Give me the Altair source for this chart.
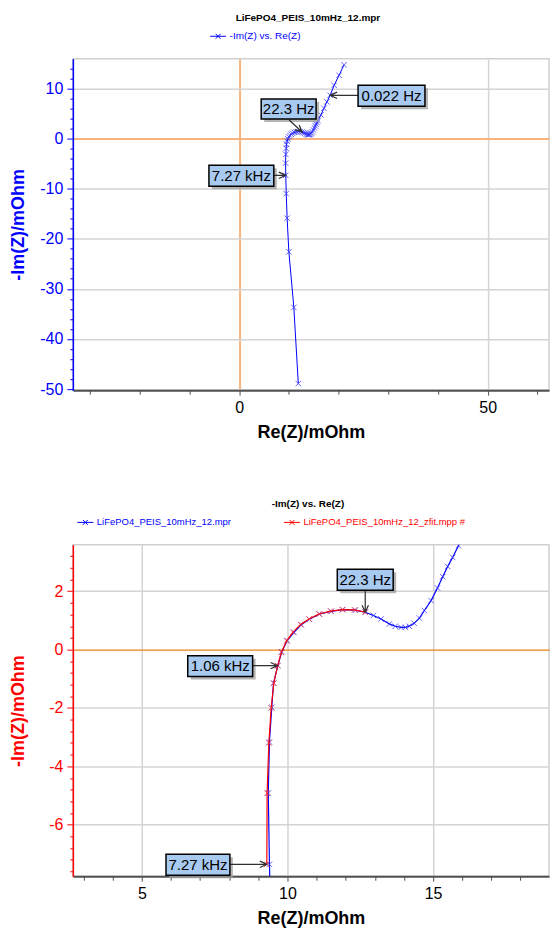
import math
import altair as alt
import pandas as pd

# ---------------- data (mOhm) ----------------
# measured spectrum, from high to low frequency
RE_MEAS = [11.90, 11.00, 10.00, 9.65, 9.47, 9.38, 9.34, 9.38, 9.46, 9.52,
           9.67, 9.80, 9.99, 10.22, 10.47, 10.75, 11.10, 11.50, 11.90, 12.33,
           12.67, 12.95, 13.21, 13.50, 13.70, 13.90, 14.05, 14.18, 14.35, 14.53,
           14.70, 14.93, 15.15, 15.33, 15.50, 15.67, 15.87, 16.45, 17.05, 17.65,
           18.30, 19.10, 20.10, 21.10]
NEG_IM_MEAS = [-48.9, -33.7, -22.6, -15.9, -11.0, -7.36, -4.92, -3.17, -1.98, -1.15,
               -0.55, -0.08, 0.31, 0.59, 0.85, 1.04, 1.22, 1.31, 1.37, 1.35,
               1.28, 1.17, 1.05, 0.88, 0.80, 0.76, 0.76, 0.80, 0.90, 1.08,
               1.34, 1.68, 2.11, 2.50, 2.85, 3.16, 3.56, 4.70, 6.00, 7.30,
               8.60, 10.60, 12.60, 14.70]
# fitted spectrum
RE_FIT = [9.29, 9.30, 9.36, 9.44, 9.53, 9.66, 9.79, 9.97, 10.19, 10.45,
          10.74, 11.08, 11.48, 11.88, 12.30, 12.67]
NEG_IM_FIT = [-7.36, -4.92, -3.20, -2.00, -1.15, -0.55, -0.10, 0.30, 0.60, 0.86,
              1.05, 1.22, 1.32, 1.37, 1.36, 1.28]

TITLE_TOP = "LiFePO4_PEIS_10mHz_12.mpr"
TITLE_BOT = "-Im(Z) vs. Re(Z)"
SERIES_TOP = "-Im(Z) vs. Re(Z)"
SERIES_MEAS = "LiFePO4_PEIS_10mHz_12.mpr"
SERIES_FIT = "LiFePO4_PEIS_10mHz_12_zfit.mpp #"
X_TITLE = "Re(Z)/mOhm"
Y_TITLE = "-Im(Z)/mOhm"

TOP_X_TICKS = [-30, -20, -10, 0, 10, 20, 30, 40, 50, 60]
TOP_Y_TICKS = [-50, -48, -46, -44, -42, -40, -38, -36, -34, -32, -30, -28, -26, -24,
               -22, -20, -18, -16, -14, -12, -10, -8, -6, -4, -2, 0, 2, 4, 6, 8,
               10, 12, 14]
BOT_X_TICKS = [3, 4, 5, 6, 7, 8, 9, 10, 11, 12, 13, 14, 15, 16, 17, 18]
BOT_Y_TICKS = [-7.6, -7.2, -6.8, -6.4, -6.0, -5.6, -5.2, -4.8, -4.4, -4.0, -3.6,
               -3.2, -2.8, -2.4, -2.0, -1.6, -1.2, -0.8, -0.4, 0.0, 0.4, 0.8,
               1.2, 1.6, 2.0, 2.4, 2.8, 3.2]

# callouts: (label, series, index into that series)
CALLOUTS_TOP = [("7.27 kHz", "meas", 5), ("22.3 Hz", "meas", 20), ("0.022 Hz", "meas", 40)]
CALLOUTS_BOT = [("1.06 kHz", "fit", 5), ("22.3 Hz", "fit", 15), ("7.27 kHz", "fit", 0)]

# ---------------- layout / style ----------------
W, H = 477, 332
FONT = "Liberation Sans"
BLUE, RED = "#0000ff", "#ff0000"
GRID = "#d4d4d4"
# box (left, top, right, bottom) and arrow start, pixels relative to target point
GEOM_TOP = {"7.27 kHz": (-77, -10, -12, 11, -12, 0),
            "22.3 Hz": (-41, -33, 14, -13, -13, -12),
            "0.022 Hz": (28, -10, 95, 11, 28, 0)}
GEOM_BOT = {"1.06 kHz": (-90, -10, -25, 11, -25, 0),
            "22.3 Hz": (-28, -43, 28, -22, 0, -22),
            "7.27 kHz": (-101, -10, -37, 11, -37, 0)}

X_PATH = "M-1,-1L1,1M-1,1L1,-1"
LEG_PATH = "M-1,0L1,0M-0.3,-0.3L0.3,0.3M-0.3,0.3L0.3,-0.3"


def rect_path(l, t, r, b):
    return f"M{l},{t}L{r},{t}L{r},{b}L{l},{b}Z"


def arrow_path(ax, ay, head=7.0, half=3.2):
    L = math.hypot(ax, ay)
    ux, uy = -ax / L, -ay / L
    bx, by = -ux * head, -uy * head
    px, py = -uy, ux
    return (f"M{ax},{ay}L0,0M{bx + px * half:.2f},{by + py * half:.2f}L0,0"
            f"L{bx - px * half:.2f},{by - py * half:.2f}")


def major(step):
    return f"abs(datum.value - round(datum.value / {step}) * {step}) < 0.001"


def make_axis(ticks, label_step, grid_step, color, zero_color, zero_w, grid_w,
              dom_color, dom_w, is_y, major_tick=5, minor_tick=3):
    kw = dict(
        values=ticks,
        labelExpr=f"{major(label_step)} ? '' + datum.value : ''",
        grid=True,
        gridColor={"condition": {"test": "abs(datum.value) < 0.001", "value": zero_color}, "value": GRID},
        gridWidth={"condition": {"test": "abs(datum.value) < 0.001", "value": zero_w}, "value": grid_w},
        gridOpacity={"condition": {"test": major(grid_step), "value": 1}, "value": 0},
        tickSize={"condition": {"test": major(label_step), "value": major_tick}, "value": minor_tick},
        tickColor=dom_color, tickWidth=1,
        domainColor=dom_color, domainWidth=dom_w,
        labelColor=color, labelFont=FONT, labelFontSize=16,
        labelOverlap=False, labelFlush=False, labelPadding=4,
        titleColor=color, titleFont=FONT, titleFontSize=18, titleFontWeight="bold",
    )
    if is_y:
        kw.update(titleX=-54, titleY=H / 2, titleAlign="center", titleBaseline="middle", titleAngle=270)
    else:
        kw.update(titlePadding=8)
    return alt.Axis(**kw)


def series_df(re, im, name):
    return pd.DataFrame({"idx": list(range(len(re))), "re": re, "negim": im, "series": name})


def callout_layers(re_v, im_v, label, geom, x_enc, y_enc):
    l, t, r, b, ax, ay = geom
    d = pd.DataFrame({"re": [re_v], "negim": [im_v], "label": [label]})
    base = alt.Chart(d).encode(x=x_enc, y=y_enc)
    shadow = base.mark_point(shape=rect_path(l + 3, t + 3, r + 3, b + 3), size=4, filled=True,
                             fill="#9c9c9c", strokeWidth=0, opacity=0.75)
    arrow = base.mark_point(shape=arrow_path(ax, ay), size=4, filled=False,
                            stroke="#303030", strokeWidth=1.2, opacity=1)
    box = base.mark_point(shape=rect_path(l, t, r, b), size=4, filled=True,
                          fill="#a8caf0", stroke="#000000", strokeWidth=1.5, opacity=1)
    text = base.mark_text(dx=(l + r) / 2, dy=(t + b) / 2, font=FONT, fontSize=15,
                          color="#000000", align="center", baseline="middle").encode(text="label:N")
    return [shadow, arrow, box, text]


def title_layer(text):
    return alt.Chart(pd.DataFrame({"t": [text]})).mark_text(
        font=FONT, fontSize=10, fontWeight="bold", color="#000000",
        align="center", baseline="middle").encode(
        x=alt.value(W / 2 - 3), y=alt.value(-41), text="t:N")


SERIES_DATA = {"meas": (RE_MEAS, NEG_IM_MEAS), "fit": (RE_FIT, NEG_IM_FIT)}

# ---------------- top panel ----------------
xt = alt.X("re:Q", title=X_TITLE, scale=alt.Scale(domain=[-33.45, 62.33], nice=False, zero=False),
           axis=make_axis(TOP_X_TICKS, 50, 50, "#000000", "#f8b47c", 2, 1.5, "#505050", 2, False, 5, 4))
yt = alt.Y("negim:Q", title=Y_TITLE, scale=alt.Scale(domain=[-50.2, 15.9], nice=False, zero=False),
           axis=make_axis(TOP_Y_TICKS, 10, 10, BLUE, "#f8b47c", 2, 1.5, BLUE, 1.5, True, 6, 3))

df_top = series_df(RE_MEAS, NEG_IM_MEAS, SERIES_TOP)
top_line = alt.Chart(df_top).mark_line(strokeWidth=1, clip=True).encode(
    x=xt, y=yt, order="idx:Q",
    color=alt.Color("series:N", scale=alt.Scale(domain=[SERIES_TOP], range=[BLUE]),
                    legend=alt.Legend(title=None, orient="none", legendX=137, legendY=-31,
                                      symbolType=LEG_PATH, symbolSize=256, symbolStrokeWidth=1,
                                      labelFont=FONT, labelFontSize=10, labelColor=BLUE,
                                      labelOffset=3, padding=0)))
top_pts = alt.Chart(df_top).mark_point(shape=X_PATH, size=30, strokeWidth=1, color="#3030ff",
                                       opacity=0.75, clip=True).encode(x=xt, y=yt)
top_layers = [top_line, top_pts, title_layer(TITLE_TOP)]
for lab, ser, i in CALLOUTS_TOP:
    re_s, im_s = SERIES_DATA[ser]
    top_layers += callout_layers(re_s[i], im_s[i], lab, GEOM_TOP[lab], xt, yt)
top = alt.layer(*top_layers).properties(width=W, height=H)

# ---------------- bottom panel ----------------
xb = alt.X("re:Q", title=X_TITLE, scale=alt.Scale(domain=[2.63, 18.98], nice=False, zero=False),
           axis=make_axis(BOT_X_TICKS, 5, 5, "#000000", "#f08010", 1.2, 1.5, "#505050", 2, False, 5, 4))
yb = alt.Y("negim:Q", title=Y_TITLE, scale=alt.Scale(domain=[-7.77, 3.59], nice=False, zero=False),
           axis=make_axis(BOT_Y_TICKS, 2, 2, RED, "#f08010", 1.2, 1.5, RED, 1.5, True, 6, 3))

color_b = alt.Color("series:N", scale=alt.Scale(domain=[SERIES_MEAS, SERIES_FIT], range=[BLUE, RED]),
                    legend=alt.Legend(title=None, orient="none", legendX=4, legendY=-31,
                                      direction="horizontal", columns=2, columnPadding=50,
                                      symbolType=LEG_PATH, symbolSize=256, symbolStrokeWidth=1,
                                      labelFont=FONT, labelFontSize=9.5, labelLimit=400,
                                      labelColor={"expr": f"datum.label == '{SERIES_FIT}' ? '{RED}' : '{BLUE}'"},
                                      labelOffset=3, padding=0))
df_meas = series_df(RE_MEAS, NEG_IM_MEAS, SERIES_MEAS)
df_fit = series_df(RE_FIT, NEG_IM_FIT, SERIES_FIT)
b_meas = alt.Chart(df_meas).mark_line(strokeWidth=1.2, clip=True).encode(x=xb, y=yb, order="idx:Q", color=color_b)
b_meas_pts = alt.Chart(df_meas).mark_point(shape=X_PATH, size=30, strokeWidth=1, color="#3030ff",
                                           opacity=0.75, clip=True).encode(x=xb, y=yb)
b_fit = alt.Chart(df_fit).mark_line(strokeWidth=1.2, clip=True).encode(x=xb, y=yb, order="idx:Q", color=color_b)
b_fit_pts = alt.Chart(df_fit).mark_point(shape=X_PATH, size=30, strokeWidth=1, color="#ff3030",
                                         opacity=0.75, clip=True).encode(x=xb, y=yb)
bot_layers = [b_meas, b_meas_pts, b_fit, b_fit_pts, title_layer(TITLE_BOT)]
for lab, ser, i in CALLOUTS_BOT:
    re_s, im_s = SERIES_DATA[ser]
    bot_layers += callout_layers(re_s[i], im_s[i], lab, GEOM_BOT[lab], xb, yb)
bottom = alt.layer(*bot_layers).properties(width=W, height=H)

chart = alt.vconcat(top, bottom, spacing=56).resolve_scale(
    x="independent", y="independent", color="independent"
).resolve_legend(color="independent").configure(
    padding={"left": 9, "top": 11, "right": 0, "bottom": 0},
    background="#ffffff",
).configure_view(stroke="#cfcfcf", strokeWidth=1.5)

chart.save("out.html", embed_options={"renderer": "svg", "actions": False})
